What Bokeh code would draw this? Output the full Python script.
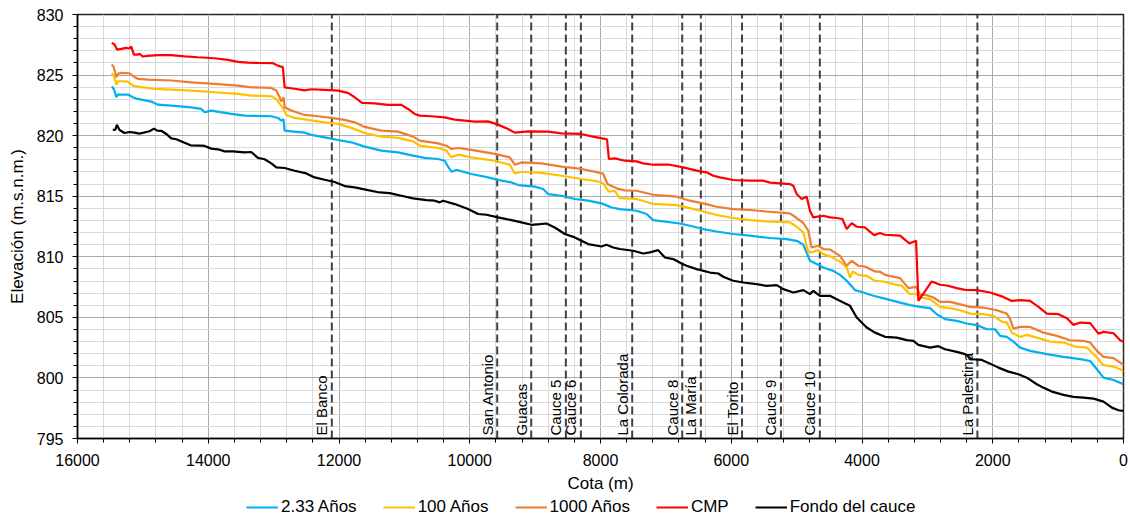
import numpy as np
from bokeh.plotting import figure
from bokeh.layouts import column
from bokeh.models import Range1d, Legend, LegendItem, FixedTicker, ColumnDataSource
from bokeh.core.properties import value
from bokeh.embed import file_html
from bokeh.resources import INLINE

# ---------------- data ----------------
x_ticks = list(range(0, 16001, 2000))
x_minor = list(range(0, 16001, 400))
y_ticks = list(range(795, 831, 5))
y_minor = list(range(795, 831, 1))

cota_233 = [15476, 15445, 15406, 15383, 15230, 15153, 15077, 14872, 14771, 14566,
            14260, 14107, 14056, 13954, 13648, 13444, 13035, 12934, 12883, 12847,
            12832, 12730, 12526, 12423, 12220, 12016, 11811, 11607, 11352, 11098,
            10868, 10689, 10485, 10383, 10332, 10281, 10204, 9974, 9720, 9515,
            9362, 9260, 9005, 8878, 8802, 8597, 8393, 8189, 7984, 7831,
            7704, 7449, 7296, 7194, 7041, 6786, 6633, 6429, 6224, 5970,
            5714, 5408, 5153, 4999, 4898, 4796, 4693, 4592, 4439, 4337,
            4234, 4107, 3980, 3827, 3622, 3418, 3265, 3112, 2959, 2856,
            2729, 2550, 2397, 2244, 2091, 1964, 1887, 1785, 1684, 1581,
            1428, 1172, 918, 663, 510, 407, 306, 153, 0]
elev_233 = [824.05, 823.85, 823.17, 823.39, 823.39, 823.17, 823.03, 822.81, 822.56, 822.48,
            822.34, 822.21, 821.93, 822.07, 821.79, 821.65, 821.6, 821.46, 821.24, 821.35,
            820.41, 820.36, 820.25, 820.06, 819.86, 819.64, 819.45, 819.09, 818.76, 818.62,
            818.35, 818.16, 818.07, 817.93, 817.44, 817.02, 817.17, 816.83, 816.55, 816.28,
            816.14, 815.92, 815.79, 815.6, 815.18, 815.04, 814.77, 814.63, 814.41, 814.07,
            813.94, 813.8, 813.53, 813.03, 812.92, 812.75, 812.56, 812.29, 812.09, 811.88,
            811.74, 811.55, 811.46, 811.32, 811.0, 809.67, 809.4, 809.12, 808.84, 808.51,
            808.02, 807.25, 807.05, 806.78, 806.5, 806.22, 806.01, 805.87, 805.76, 805.26,
            804.85, 804.71, 804.49, 804.36, 804.02, 804.02, 803.47, 803.39, 803.0, 802.5,
            802.23, 801.96, 801.74, 801.55, 801.4, 800.72, 800.02, 799.83, 799.48]

cota_100 = [15476, 15445, 15406, 15383, 15306, 15230, 15153, 15077, 14822, 14566,
            14260, 13903, 13546, 13342, 13035, 12959, 12908, 12858, 12806, 12679,
            12475, 12220, 12016, 11811, 11607, 11352, 11098, 10868, 10765, 10485,
            10357, 10281, 10179, 9974, 9618, 9388, 9311, 9209, 8903, 8597,
            8291, 8037, 7960, 7872, 7781, 7704, 7449, 7194, 6836, 6633,
            6429, 6224, 5970, 5714, 5458, 5102, 4999, 4897, 4822, 4745,
            4669, 4592, 4490, 4337, 4234, 4183, 4142, 4056, 3928, 3801,
            3674, 3521, 3392, 3265, 3173, 3112, 2959, 2806, 2653, 2500,
            2347, 2143, 1990, 1862, 1785, 1708, 1581, 1479, 1326, 1122,
            918, 739, 560, 407, 306, 153, 51, 0]
elev_100 = [825.15, 824.95, 824.21, 824.49, 824.49, 824.46, 824.13, 824.05, 823.86, 823.8,
            823.72, 823.58, 823.45, 823.31, 823.25, 823.03, 822.62, 822.29, 821.71, 821.46,
            821.3, 821.1, 820.97, 820.64, 820.22, 819.92, 819.81, 819.53, 819.17, 818.98,
            818.76, 818.21, 818.43, 818.21, 817.93, 817.6, 816.88, 817.02, 816.92, 816.69,
            816.42, 816.22, 816.05, 815.37, 815.45, 814.85, 814.77, 814.36, 814.27, 814.02,
            813.74, 813.45, 813.2, 813.03, 812.92, 812.84, 812.48, 812.01, 810.36, 810.41,
            810.55, 810.22, 810.05, 809.6, 809.12, 808.29, 808.79, 808.51, 808.43, 808.02,
            807.96, 807.74, 807.6, 806.91, 806.97, 806.64, 806.5, 805.87, 805.76, 805.59,
            805.31, 805.26, 805.12, 804.65, 804.57, 803.74, 803.39, 803.55, 803.33, 803.0,
            802.92, 802.59, 802.5, 801.68, 801.05, 800.94, 800.72, 800.52]

cota_1000 = [15476, 15445, 15406, 15383, 15331, 15204, 15128, 15077, 14924, 14566,
             14260, 13903, 13546, 13342, 13035, 12959, 12908, 12883, 12847, 12832,
             12730, 12526, 12322, 12118, 11913, 11760, 11607, 11352, 11098, 10868,
             10765, 10485, 10357, 10281, 10179, 9974, 9618, 9388, 9311, 9209,
             8903, 8597, 8291, 8037, 7960, 7893, 7730, 7627, 7449, 7194,
             6836, 6633, 6429, 6224, 5970, 5714, 5458, 5102, 4999, 4900,
             4822, 4770, 4669, 4592, 4490, 4337, 4234, 4157, 4056, 3954,
             3801, 3724, 3648, 3418, 3291, 3173, 3112, 3035, 2908, 2806,
             2653, 2449, 2347, 2143, 1938, 1785, 1734, 1684, 1581, 1428,
             1225, 1019, 816, 612, 510, 407, 306, 153, 51, 0]
elev_1000 = [825.87, 825.65, 824.82, 825.1, 825.18, 825.15, 824.82, 824.69, 824.63, 824.55,
             824.4, 824.27, 824.13, 823.99, 823.94, 823.72, 823.17, 822.81, 823.17, 822.34,
             822.07, 821.71, 821.6, 821.46, 821.3, 821.1, 820.72, 820.41, 820.33, 819.92,
             819.59, 819.36, 819.17, 818.9, 818.98, 818.82, 818.49, 818.21, 817.6, 817.79,
             817.71, 817.44, 817.25, 816.97, 816.85, 816.01, 815.6, 815.48, 815.45, 815.12,
             814.96, 814.63, 814.41, 814.13, 813.94, 813.86, 813.74, 813.58, 813.2, 812.8,
             812.15, 810.77, 810.91, 810.64, 810.6, 810.08, 809.26, 809.67, 809.26, 809.2,
             808.79, 808.76, 808.51, 808.24, 807.41, 807.52, 806.86, 806.86, 806.64, 806.28,
             806.28, 806.01, 805.87, 805.81, 805.59, 805.31, 804.85, 804.07, 804.21, 804.21,
             803.74, 803.47, 803.11, 803.06, 802.92, 802.23, 801.74, 801.63, 801.26, 801.07]

cota_cmp = [15476, 15434, 15393, 15331, 15255, 15204, 15178, 15138, 15077, 15051,
            15000, 14924, 14771, 14566, 14362, 14159, 13903, 13700, 13546, 13393,
            13240, 13011, 12934, 12858, 12832, 12730, 12526, 12423, 12220, 12016,
            11863, 11760, 11649, 11454, 11250, 11046, 10944, 10842, 10765, 10586,
            10383, 10230, 10076, 9923, 9720, 9567, 9414, 9311, 9108, 8802,
            8597, 8291, 8137, 7934, 7900, 7872, 7781, 7627, 7449, 7347,
            7194, 6939, 6735, 6479, 6377, 6276, 6173, 5970, 5714, 5510,
            5408, 5102, 5051, 4999, 4923, 4846, 4796, 4745, 4592, 4490,
            4387, 4300, 4234, 4157, 4081, 3954, 3816, 3724, 3648, 3418,
            3276, 3173, 3138, 2933, 2806, 2703, 2550, 2423, 2244, 2040,
            1837, 1708, 1581, 1428, 1301, 1172, 995, 866, 765, 663,
            510, 383, 306, 153, 51, 0]
elev_cmp = [827.66, 827.52, 827.1, 827.16, 827.25, 827.19, 827.36, 826.69, 826.69, 826.75,
            826.53, 826.59, 826.64, 826.64, 826.55, 826.47, 826.39, 826.26, 826.09, 826.03,
            826.0, 825.98, 825.78, 825.64, 823.99, 823.91, 823.74, 823.83, 823.78, 823.72,
            823.53, 823.17, 822.7, 822.67, 822.54, 822.54, 822.2, 821.79, 821.65, 821.6,
            821.51, 821.32, 821.24, 821.16, 821.18, 820.91, 820.55, 820.25, 820.36, 820.33,
            820.19, 820.14, 819.94, 819.73, 819.7, 818.07, 818.12, 817.93, 817.88, 817.71,
            817.6, 817.6, 817.38, 817.05, 816.97, 816.69, 816.55, 816.34, 816.28, 816.28,
            816.12, 816.0, 815.87, 815.18, 814.77, 814.96, 813.8, 813.25, 813.39, 813.25,
            813.2, 813.12, 812.29, 812.78, 812.48, 812.42, 811.79, 811.96, 811.82, 811.74,
            811.1, 811.32, 806.36, 807.96, 807.69, 807.63, 807.41, 807.27, 807.25, 807.05,
            806.69, 806.36, 806.42, 806.36, 805.87, 805.31, 805.26, 804.93, 804.38, 804.57,
            804.52, 803.66, 803.8, 803.69, 803.11, 802.98]

cota_fondo = [15460, 15420, 15398, 15357, 15281, 15204, 15128, 15051, 14898, 14831,
              14780, 14719, 14642, 14566, 14489, 14362, 14270, 14107, 14056, 13954,
              13826, 13750, 13623, 13444, 13342, 13240, 13138, 13035, 12959, 12832,
              12679, 12500, 12373, 12220, 12067, 11913, 11760, 11556, 11378, 11225,
              11046, 10868, 10663, 10536, 10459, 10409, 10230, 10026, 9873, 9745,
              9567, 9362, 9209, 9056, 8929, 8827, 8700, 8546, 8393, 8291,
              8189, 7984, 7908, 7806, 7704, 7500, 7347, 7245, 7118, 7015,
              6888, 6760, 6683, 6530, 6326, 6199, 6123, 5970, 5817, 5612,
              5458, 5305, 5204, 5051, 4898, 4796, 4745, 4643, 4490, 4387,
              4286, 4183, 4081, 3928, 3801, 3648, 3469, 3315, 3214, 3138,
              2959, 2832, 2729, 2550, 2423, 2321, 2167, 2040, 1913, 1760,
              1607, 1479, 1326, 1249, 1096, 918, 765, 612, 459, 306,
              178, 77, 0]
elev_fondo = [820.47, 820.5, 820.9, 820.47, 820.22, 820.3, 820.25, 820.17, 820.36, 820.58,
              820.41, 820.4, 820.14, 819.78, 819.7, 819.42, 819.2, 819.17, 819.15, 818.93,
              818.84, 818.7, 818.7, 818.62, 818.65, 818.16, 818.05, 817.71, 817.38, 817.33,
              817.1, 816.88, 816.55, 816.36, 816.17, 815.84, 815.73, 815.5, 815.31, 815.26,
              815.04, 814.82, 814.68, 814.63, 814.49, 814.63, 814.35, 813.94, 813.53, 813.47,
              813.25, 813.03, 812.84, 812.64, 812.7, 812.75, 812.42, 811.88, 811.6, 811.32,
              811.05, 810.85, 810.99, 810.77, 810.64, 810.5, 810.27, 810.36, 810.55, 809.94,
              809.81, 809.45, 809.26, 808.98, 808.7, 808.62, 808.35, 808.02, 807.88, 807.74,
              807.6, 807.66, 807.33, 807.05, 807.25, 806.92, 807.19, 806.78, 806.78, 806.5,
              806.22, 805.95, 804.99, 804.16, 803.74, 803.39, 803.33, 803.12, 803.06, 802.73,
              802.5, 802.62, 802.37, 802.15, 801.96, 801.54, 801.49, 801.18, 800.85, 800.52,
              800.3, 800.02, 799.48, 799.26, 798.87, 798.6, 798.43, 798.37, 798.29, 798.04,
              797.55, 797.33, 797.27]

sitios = ["El Banco", "San Antonio", "Guacas", "Cauce 5", "Cauce 6", "La Colorada",
          "Cauce 8", "La María", "El Torito", "Cauce 9", "Cauce 10", "La Palestina"]
sitios_cota = [12110, 9580, 9060, 8530, 8300, 7515, 6750, 6465, 5835, 5240, 4645, 2235]

series_names = ["2.33 Años", "100 Años", "1000 Años", "CMP", "Fondo del cauce"]
series_colors = ["#00B0F0", "#FFC000", "#ED7D31", "#FF0000", "#000000"]

# ---------------- main figure ----------------
FONT = "Liberation Sans"
W = 1130
p = figure(width=W, height=497, x_range=Range1d(16000, 0), y_range=Range1d(795, 830),
           output_backend="svg", toolbar_location=None,
           min_border_left=77, min_border_right=7, min_border_top=14, min_border_bottom=59,
           background_fill_color="white", border_fill_color="white")

p.xaxis.ticker = FixedTicker(ticks=x_ticks, minor_ticks=x_minor)
p.yaxis.ticker = FixedTicker(ticks=y_ticks, minor_ticks=y_minor)

for ax in (p.xaxis[0], p.yaxis[0]):
    ax.major_label_text_font = FONT
    ax.major_label_text_font_size = "16px"
    ax.major_label_text_color = "black"
    ax.axis_label_text_font = FONT
    ax.axis_label_text_font_size = "17px"
    ax.axis_label_text_font_style = "normal"
    ax.axis_label_text_color = "black"
    ax.axis_line_color = "black"
    ax.axis_line_width = 1.5
    ax.major_tick_line_color = "black"
    ax.minor_tick_line_color = "black"
    ax.major_tick_in = 0
    ax.major_tick_out = 5
    ax.minor_tick_in = 0
    ax.minor_tick_out = 4

p.xaxis.major_label_standoff = 10
p.yaxis.major_label_standoff = 9
p.xaxis.axis_label = "Cota (m)"
p.yaxis.axis_label = "Elevación (m.s.n.m.)"
p.xaxis.axis_label_standoff = 5
p.yaxis.axis_label_standoff = 7

for g in (p.xgrid[0], p.ygrid[0]):
    g.grid_line_color = "#AAAAAA"
    g.grid_line_width = 1
    g.minor_grid_line_color = "#D9D9D9"
    g.minor_grid_line_width = 1

p.outline_line_color = "#262626"
p.outline_line_width = 1.5

# vertical dashed lines of the sites
src_sitios = ColumnDataSource(dict(x=sitios_cota, y0=[795] * len(sitios_cota),
                                   y1=[830] * len(sitios_cota), label=sitios))
p.segment(x0="x", y0="y0", x1="x", y1="y1", source=src_sitios,
          line_color="#404040", line_width=2, line_dash="8 4")

series = [(cota_233, elev_233), (cota_100, elev_100), (cota_1000, elev_1000),
          (cota_cmp, elev_cmp), (cota_fondo, elev_fondo)]
for (xs, ys), c in zip(series, series_colors):
    p.line(xs, ys, line_color=c, line_width=2.2)

p.text(x="x", y="y0", text="label", source=src_sitios, angle=np.pi / 2,
       text_align="left", text_baseline="middle", x_offset=-10, y_offset=-3,
       text_font=value(FONT), text_font_size="15px", text_color="black")

# ---------------- legend strip (same series, drawn outside its view) ----------------
pl = figure(width=W, height=20, x_range=Range1d(-2, -1), y_range=Range1d(0, 1),
            output_backend="svg", toolbar_location=None,
            x_axis_location=None, y_axis_location=None,
            min_border_left=0, min_border_right=0, min_border_top=0, min_border_bottom=0,
            background_fill_color="white", border_fill_color="white")
pl.grid.visible = False
pl.outline_line_color = None
leg_r = [pl.line(xs, ys, line_color=c, line_width=2.2) for (xs, ys), c in zip(series, series_colors)]

legend = Legend(items=[LegendItem(label=n, renderers=[r]) for n, r in zip(series_names, leg_r)],
                orientation="horizontal", location=(169, 0),
                label_text_font=FONT, label_text_font_size="17px", label_text_color="black",
                glyph_width=32, glyph_height=20, label_height=20, label_standoff=3, spacing=26,
                padding=0, margin=0, border_line_color=None, background_fill_alpha=0)
pl.add_layout(legend, "center")

layout = column(p, pl, spacing=0)
open("out.html", "w").write(file_html(layout, INLINE))
